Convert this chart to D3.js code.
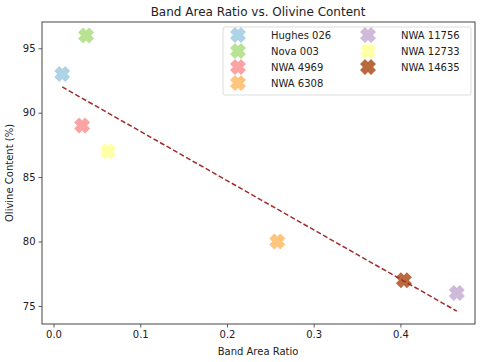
<!DOCTYPE html>
<html>
<head>
<meta charset="utf-8">
<script src="https://cdn.jsdelivr.net/npm/d3@7"></script>
<style>
body { margin: 0; background: #fff; }
svg text { font-family: "DejaVu Sans", sans-serif; fill: #222; }
</style>
</head>
<body>
<svg width="483" height="362"></svg>
<script>
const names = ["Hughes 026", "Nova 003", "NWA 4969", "NWA 6308", "NWA 11756", "NWA 12733", "NWA 14635"];
const bandRatio = [0.010, 0.0375, 0.033, 0.258, 0.465, 0.063, 0.404];
const olivine = [93, 96, 89, 80, 76, 87, 77];
const colors = ["#a6cee3", "#b2df8a", "#fb9a99", "#fdbf6f", "#cab2d6", "#ffff99", "#b15928"];
const fitX = [0.010, 0.465];
const fitY = [92.0, 74.6];
const xTicks = [0.0, 0.1, 0.2, 0.3, 0.4];
const yTicks = [75, 80, 85, 90, 95];

const svg = d3.select("svg");
const m = {left: 42, right: 8, top: 22, bottom: 38};
const W = 483, H = 362;

const x = d3.scaleLinear().domain([-0.0133, 0.486]).range([m.left, W - m.right]);
const y = d3.scaleLinear().domain([73.6, 97.04]).range([H - m.bottom, m.top]);

// thick X marker
function xPath(r, w) {
    const pts = [[-w, -r], [0, -r + w], [w, -r], [r, -w], [r - w, 0], [r, w], [w, r], [0, r - w], [-w, r], [-r, w], [-r + w, 0], [-r, -w]];
    return "M" + pts.map(p => p.join(",")).join("L") + "Z";
}
const marker = xPath(8, 3);

const xAxis = svg.append("g")
    .attr("transform", `translate(0,${H - m.bottom})`)
    .call(d3.axisBottom(x).tickValues(xTicks).tickFormat(d3.format(".1f")).tickSizeOuter(0).tickSize(3.5).tickPadding(3));
const yAxis = svg.append("g")
    .attr("transform", `translate(${m.left},0)`)
    .call(d3.axisLeft(y).tickValues(yTicks).tickSizeOuter(0).tickSize(3.5).tickPadding(3));
[xAxis, yAxis].forEach(a => {
    a.select(".domain").remove();
    a.selectAll("line").attr("stroke", "#333").attr("stroke-width", 0.8);
    a.selectAll("text").attr("font-size", 10).attr("fill", "#222").attr("font-family", "DejaVu Sans, sans-serif");
});

svg.append("rect")
    .attr("x", m.left).attr("y", m.top)
    .attr("width", W - m.left - m.right).attr("height", H - m.top - m.bottom)
    .attr("fill", "none").attr("stroke", "#444").attr("stroke-width", 1);

// points
svg.append("g").selectAll("path")
    .data(names)
    .join("path")
    .attr("d", marker)
    .attr("transform", (d, i) => `translate(${x(bandRatio[i])},${y(olivine[i])})`)
    .attr("fill", (d, i) => colors[i])
    .attr("opacity", 0.9);

// fit line
svg.append("line")
    .attr("x1", x(fitX[0])).attr("y1", y(fitY[0]))
    .attr("x2", x(fitX[1])).attr("y2", y(fitY[1]))
    .attr("stroke", "#a52a2a").attr("stroke-width", 1.5)
    .attr("stroke-dasharray", "5,2.5");

// legend
const lg = svg.append("g");
lg.append("rect")
    .attr("x", 223).attr("y", 27).attr("width", 248).attr("height", 68)
    .attr("rx", 2).attr("fill", "#fff").attr("fill-opacity", 0.8)
    .attr("stroke", "#ddd").attr("stroke-width", 1);
names.forEach((n, i) => {
    const col = i < 4 ? 0 : 1;
    const row = i < 4 ? i : i - 4;
    const mx = col === 0 ? 238 : 368;
    const ty = 35 + row * 16;
    lg.append("path").attr("d", marker)
        .attr("transform", `translate(${mx},${ty})`)
        .attr("fill", colors[i]).attr("opacity", 0.9);
    lg.append("text")
        .attr("x", col === 0 ? 271 : 401).attr("y", ty + 3.6)
        .attr("font-size", 10).text(n);
});

svg.append("text").attr("x", 258).attr("y", 16).attr("text-anchor", "middle")
    .attr("font-size", 12).text("Band Area Ratio vs. Olivine Content");
svg.append("text").attr("x", 258).attr("y", 355).attr("text-anchor", "middle")
    .attr("font-size", 10).text("Band Area Ratio");
svg.append("text").attr("transform", "translate(13,173) rotate(-90)").attr("text-anchor", "middle")
    .attr("font-size", 10).text("Olivine Content (%)");
</script>
</body>
</html>
